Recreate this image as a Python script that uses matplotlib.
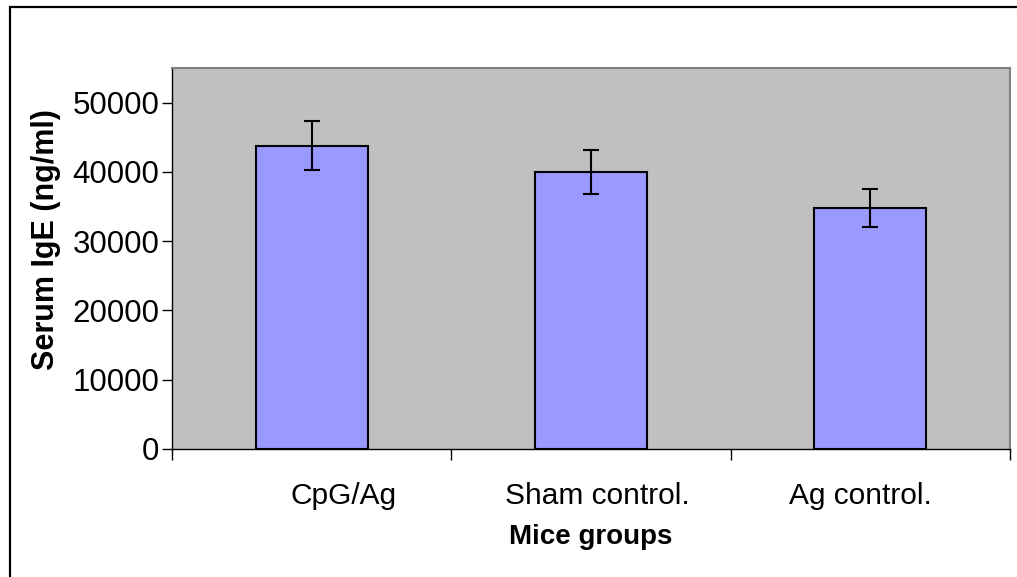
"""Serum IgE por grupo de ratones (estilo Excel)."""

import numpy as np
import matplotlib.pyplot as plt
import matplotlib.transforms as mtransforms
from matplotlib.patches import Rectangle

groups = ["CpG/Ag", "Sham control.", "Ag control."]
ige_mean = [43800, 40000, 34800]
ige_err = [3500, 3200, 2800]

plt.rcParams.update({
    "font.family": ["Liberation Sans", "DejaVu Sans"],
    "figure.facecolor": "white",
})

W, H = 1017, 577
fig = plt.figure(figsize=(W / 100, H / 100), dpi=100)
ax = fig.add_axes([172 / W, 1 - 449 / H, (1010 - 172) / W, (449 - 68) / H])
ax.set_facecolor("#C0C0C0")

x = np.arange(len(groups))
ax.bar(x, ige_mean, width=0.4, color="#9999FF", edgecolor="black", linewidth=1.5,
       zorder=2)
ax.errorbar(x, ige_mean, yerr=ige_err, fmt="none", ecolor="black", elinewidth=1.5,
            capsize=5.5, capthick=1.5, zorder=3)

ax.set_xlim(-0.5, len(groups) - 0.5)
ax.set_ylim(0, 55000)
ax.set_yticks(np.arange(0, 50001, 10000))
ax.tick_params(axis="y", labelsize=22.5, length=7, width=1, direction="out", pad=2)

# etiquetas en el centro, marcas de tick en los bordes de cada categoría
ax.set_xticks(x)
ax.set_xticklabels(groups, fontsize=21.5)
ax.tick_params(axis="x", which="major", length=0, pad=24)
ax.set_xticks(np.arange(-0.5, len(groups)), minor=True)
ax.tick_params(axis="x", which="minor", length=8, width=1, direction="out")

# desplazamiento de las etiquetas como en el original
offsets = [32, 6, -10]
for lbl, dx in zip(ax.get_xticklabels(), offsets):
    shift = mtransforms.ScaledTranslation(dx / 100, 0, fig.dpi_scale_trans)
    lbl.set_transform(lbl.get_transform() + shift)

for side in ["top", "right"]:
    ax.spines[side].set_color("#808080")
    ax.spines[side].set_linewidth(1.5)
for side in ["left", "bottom"]:
    ax.spines[side].set_color("black")
    ax.spines[side].set_linewidth(1)

ax.set_ylabel("Serum IgE (ng/ml)", fontsize=22, fontweight="bold", labelpad=8)
ax.yaxis.label.set_y(0.55)
ax.set_xlabel("Mice groups", fontsize=20, fontweight="bold", labelpad=10)

# marco exterior del gráfico
fig.patches.append(Rectangle((9.5 / W, -0.05), 1.1, 1 - 6.5 / H + 0.05,
                             transform=fig.transFigure, fill=False,
                             edgecolor="black", linewidth=1.6))

fig.savefig("out.png", dpi=100)
